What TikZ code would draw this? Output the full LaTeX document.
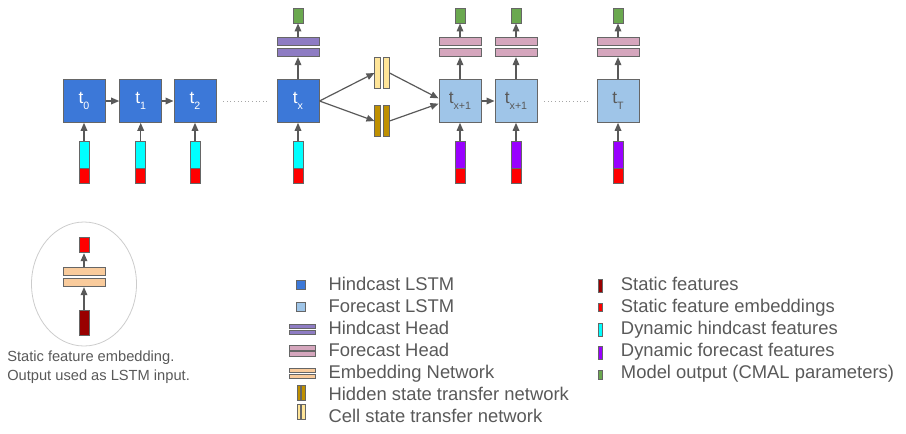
\documentclass[tikz,border=0pt]{standalone}
\usepackage{fontspec}
\setmainfont{Liberation Sans}
\usetikzlibrary{shapes.geometric,arrows.meta}
\definecolor{hindblue}{HTML}{3C78D8}
\definecolor{foreblue}{HTML}{9FC5E8}
\definecolor{hindhead}{HTML}{8E7CC3}
\definecolor{forehead}{HTML}{D5A6BD}
\definecolor{embnet}{HTML}{F9CB9C}
\definecolor{hidnet}{HTML}{BF9000}
\definecolor{cellnet}{HTML}{FFE599}
\definecolor{statfeat}{HTML}{990000}
\definecolor{statemb}{HTML}{FF0000}
\definecolor{dynhind}{HTML}{00FFFF}
\definecolor{dynfore}{HTML}{9900FF}
\definecolor{outgreen}{HTML}{6AA84F}
\definecolor{edge}{HTML}{666666}
\definecolor{arrowgray}{HTML}{595959}
\definecolor{txtgray}{HTML}{595959}
\newcommand{\tsub}[1]{t\raisebox{-4pt}{\fontsize{8}{8}\selectfont #1}}

\begin{document}
\begin{tikzpicture}[x=0.75pt,y=-0.75pt,
    box/.style={draw=edge,line width=0.75pt,minimum width=31.5pt,minimum height=32pt,inner sep=0pt,font=\fontsize{13}{13}\selectfont},
    bar/.style={draw=edge,line width=0.7pt,inner sep=0pt},
    dynbar/.style={bar,minimum width=7.5pt,minimum height=20.25pt},
    embbar/.style={bar,fill=statemb,minimum width=7.5pt,minimum height=11.25pt},
    headbar/.style={bar,minimum width=31.5pt,minimum height=5.8pt},
    outbox/.style={bar,fill=outgreen,minimum width=7.5pt,minimum height=11.25pt},
    xferbar/.style={bar,minimum width=4.3pt,minimum height=23pt},
    conn/.style={draw=arrowgray,line width=0.9pt,-{Triangle[length=6pt,width=5pt]}},
    dots/.style={draw=gray!70,line width=0.7pt,dash pattern=on 0.7pt off 2pt,shorten <=5pt,shorten >=5pt},
    lgtext/.style={anchor=base west,inner sep=0pt,text=txtgray,font=\fontsize{13.8}{15}\selectfont},
    lghead/.style={bar,line width=0.5pt,minimum width=19.5pt,minimum height=3.4pt},
    lgthin/.style={bar,line width=0.5pt,minimum width=2.5pt,minimum height=11pt},
    lgstrip/.style={bar,line width=0.5pt,minimum width=3.5pt}]
\useasboundingbox (0,0) rectangle (906,433);

% hindcast part
\foreach \n/\x/\s in {h0/84/0,h1/140.7/1,h2/195/2,hx/298/x} {
    \node[box,fill=hindblue,text=white] (\n) at (\x,101) {\tsub{\s}};
    \node[dynbar,fill=dynhind] (\n-dyn) at (\x,154.5) {};
    \node[embbar] (\n-emb) at (\x,175.5) {};
    \draw[conn] (\n-dyn) -- (\n);
}
\draw[conn] (h0) -- (h1);
\draw[conn] (h1) -- (h2);
\draw[dots] (h2) -- (hx);
\node[headbar,fill=hindhead] (hx-hd1) at (298,52.8) {};
\node[headbar,fill=hindhead] (hx-hd2) at (298,41.2) {};
\node[outbox] (hx-out) at (298,15.5) {};
\draw[conn] (hx) -- (hx-hd1);
\draw[conn] (hx-hd2) -- (hx-out);

% state transfer
\node[xferbar,fill=cellnet] (cell-a) at (377.8,73) {};
\node[xferbar,fill=cellnet] (cell-b) at (386.2,73) {};
\node[xferbar,fill=hidnet] (hid-a) at (377.8,121) {};
\node[xferbar,fill=hidnet] (hid-b) at (386.2,121) {};

% forecast part
\foreach \n/\x/\s in {f1/460/{x+1},f2/516/{x+1},fT/618/T} {
    \node[box,fill=foreblue,text=txtgray] (\n) at (\x,101) {\tsub{\s}};
    \node[dynbar,fill=dynfore] (\n-dyn) at (\x,154.5) {};
    \node[embbar] (\n-emb) at (\x,175.5) {};
    \node[headbar,fill=forehead] (\n-hd1) at (\x,52.8) {};
    \node[headbar,fill=forehead] (\n-hd2) at (\x,41.2) {};
    \node[outbox] (\n-out) at (\x,15.5) {};
    \draw[conn] (\n-dyn) -- (\n);
    \draw[conn] (\n) -- (\n-hd1);
    \draw[conn] (\n-hd2) -- (\n-out);
}
\draw[conn] (f1) -- (f2);
\draw[dots] (f2) -- (fT);

\draw[conn] (hx.east) -- (cell-a.west);
\draw[conn] (hx.east) -- (hid-a.west);
\draw[conn] (cell-b.east) -- ([yshift=2pt]f1.west);
\draw[conn] (hid-b.east) -- ([yshift=-2pt]f1.west);

% static embedding
\node[ellipse,draw=gray!40,line width=0.6pt,minimum width=78.75pt,minimum height=93pt] (embring) at (84,284) {};
\node[bar,fill=statfeat,minimum width=7.5pt,minimum height=18.75pt] (sf) at (84,322.8) {};
\node[headbar,fill=embnet] (en1) at (84,282.8) {};
\node[headbar,fill=embnet] (en2) at (84,271.5) {};
\node[embbar] (se) at (84,245.2) {};
\draw[conn] (sf) -- (en1);
\draw[conn] (en2) -- (se);
\node[lgtext,font=\fontsize{11}{12}\selectfont] (note1) at (7,361.7) {Static feature embedding.};
\node[lgtext,font=\fontsize{11}{12}\selectfont] (note2) at (7,380) {Output used as LSTM input.};

% legend
\node[bar,line width=0.5pt,fill=hindblue,minimum size=6.75pt] (lg1) at (300.7,285) {};
\node[bar,line width=0.5pt,fill=foreblue,minimum size=6.75pt] (lg2) at (300.7,307) {};
\node[lghead,fill=hindhead] (lg3a) at (302.3,326.3) {};
\node[lghead,fill=hindhead] (lg3b) at (302.3,332.3) {};
\node[lghead,fill=forehead] (lg4a) at (302.3,348) {};
\node[lghead,fill=forehead] (lg4b) at (302.3,354) {};
\node[lghead,fill=embnet] (lg5a) at (302.3,370.3) {};
\node[lghead,fill=embnet] (lg5b) at (302.3,376.3) {};
\node[lgthin,fill=hidnet] (lg6a) at (299,393) {};
\node[lgthin,fill=hidnet] (lg6b) at (303.3,393) {};
\node[lgthin,fill=cellnet] (lg7a) at (299,412) {};
\node[lgthin,fill=cellnet] (lg7b) at (303.3,412) {};
\node[lgtext] (lt1) at (328.3,290.7) {Hindcast LSTM};
\node[lgtext] (lt2) at (328.3,312.7) {Forecast LSTM};
\node[lgtext] (lt3) at (328.3,334.7) {Hindcast Head};
\node[lgtext] (lt4) at (328.3,356.7) {Forecast Head};
\node[lgtext] (lt5) at (328.3,378.7) {Embedding Network};
\node[lgtext] (lt6) at (328.3,400.7) {Hidden state transfer network};
\node[lgtext] (lt7) at (328.3,422.4) {Cell state transfer network};

\node[lgstrip,fill=statfeat,minimum height=9.75pt] (lr1) at (600.3,285.8) {};
\node[lgstrip,fill=statemb,minimum height=5.8pt] (lr2) at (600.3,307) {};
\node[lgstrip,fill=dynhind,minimum height=10pt] (lr3) at (600.3,330) {};
\node[lgstrip,fill=dynfore,minimum height=10pt] (lr4) at (600.3,352.7) {};
\node[lgstrip,fill=outgreen,minimum height=6.4pt] (lr5) at (600.3,375) {};
\node[lgtext] (rt1) at (620.7,290.7) {Static features};
\node[lgtext] (rt2) at (620.7,312.7) {Static feature embeddings};
\node[lgtext] (rt3) at (620.7,334.7) {Dynamic hindcast features};
\node[lgtext] (rt4) at (620.7,356.7) {Dynamic forecast features};
\node[lgtext] (rt5) at (620.7,378.7) {Model output (CMAL parameters)};
\end{tikzpicture}
\end{document}
